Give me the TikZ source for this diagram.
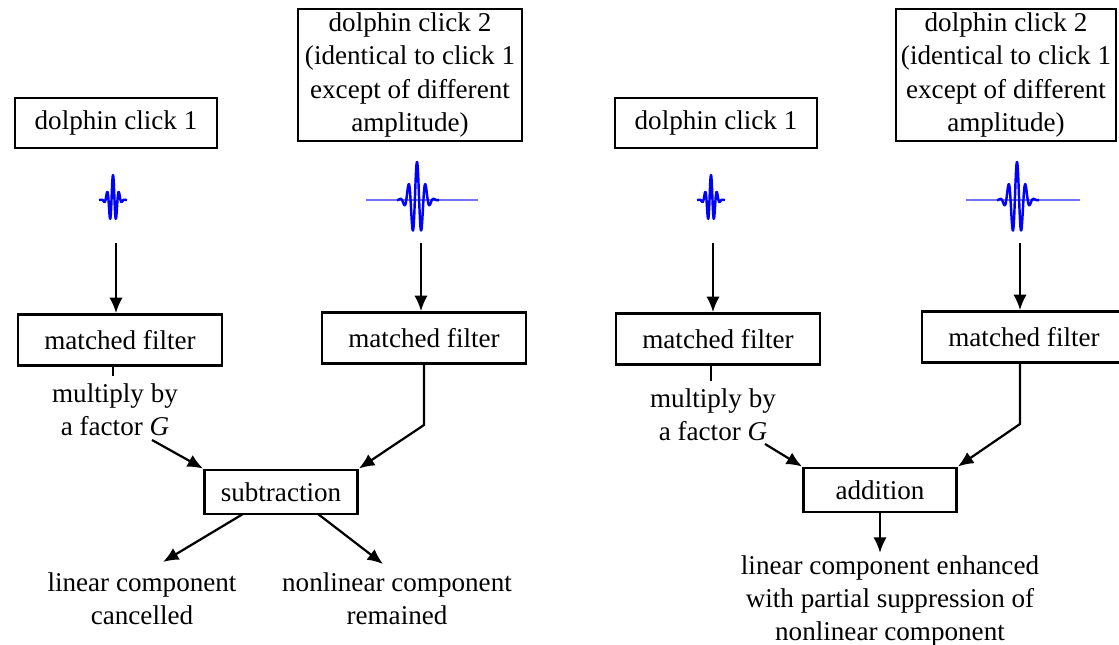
\documentclass[tikz,border=0pt]{standalone}
\usepackage{fontspec}
\setmainfont{Liberation Serif}
\usepackage{tikz}
\usetikzlibrary{arrows.meta}

\begin{document}
\begin{tikzpicture}[x=0.45pt,y=-0.45pt,
    every node/.style={font=\fontsize{12.2}{14.9}\selectfont,align=center},
    blk/.style={draw,line width=1.1pt,inner sep=0pt},
    wave/.style={blue,line width=1.1pt,line join=round},
    base/.style={blue!55,line width=0.6pt},
    arr/.style={line width=1pt,-{Latex[length=7pt,width=6pt]}},
    ln/.style={line width=1pt}]
  \useasboundingbox (0,0) rectangle (1119,645);
  % ---- left: subtraction ----
  \node[blk,minimum width=91pt,minimum height=22.5pt] (C1) at (116,123) {dolphin click 1};
  \node[blk,minimum width=101pt,minimum height=59.5pt] (C2) at (410,75)
    {dolphin click 2\\(identical to click 1\\except of different\\amplitude)};
  \draw[wave] plot[domain=-14:14,samples=250]
    ({113+\x},{200-25*exp(-(\x*\x)/30)*cos(60*\x)});
  \draw[base] (366,200) -- (478,200);
  \draw[wave] plot[domain=-20:22,samples=300]
    ({417+\x},{200-38*exp(-(\x*\x)/80)*cos(42*\x)});
  \coordinate (W1) at (116,243);
  \coordinate (W2) at (421,243);
  \node[blk,minimum width=92pt,minimum height=23pt] (MF1) at (120,340) {matched filter};
  \node[blk,minimum width=92pt,minimum height=23pt] (MF2) at (424,338) {matched filter};
  \draw[arr] (W1) -- (W1 |- MF1.north);
  \draw[arr] (W2) -- (W2 |- MF2.north);
  \node (G1) at (115,410) {multiply by\\a factor \textit{G}};
  \node[blk,minimum width=69pt,minimum height=20pt] (SUB) at (281,492) {subtraction};
  \coordinate (T1) at (113,366);
  \draw[ln] (T1) -- (T1 |- G1.north);
  \coordinate (G1e) at (152,440);
  \coordinate (T2) at (424,364);
  \coordinate (K2) at (424,425);
  \draw[arr] (G1e) -- (SUB.north west);
  \draw[arr] (T2) -- (K2) -- (SUB.north east);
  \node (LC) at (142,599) {linear component\\cancelled};
  \node (NC) at (397,599) {nonlinear component\\remained};
  \coordinate (S1) at (243,514);
  \coordinate (S2) at (318,514);
  \coordinate (E1) at (163,562);
  \coordinate (E2) at (383,564);
  \draw[arr] (S1) -- (E1);
  \draw[arr] (S2) -- (E2);
  % ---- right: addition ----
  \node[blk,minimum width=91pt,minimum height=22.5pt] (C3) at (716,123) {dolphin click 1};
  \node[blk,minimum width=99pt,minimum height=59.5pt] (C4) at (1006,75)
    {dolphin click 2\\(identical to click 1\\except of different\\amplitude)};
  \draw[wave] plot[domain=-14:14,samples=250]
    ({711+\x},{200-25*exp(-(\x*\x)/30)*cos(60*\x)});
  \draw[base] (966,200) -- (1080,200);
  \draw[wave] plot[domain=-20:22,samples=300]
    ({1017+\x},{200-38*exp(-(\x*\x)/80)*cos(42*\x)});
  \coordinate (W3) at (713,243);
  \coordinate (W4) at (1020,243);
  \node[blk,minimum width=92pt,minimum height=23pt] (MF3) at (718,339) {matched filter};
  \node[blk,minimum width=92pt,minimum height=23pt] (MF4) at (1024,337) {matched filter};
  \draw[arr] (W3) -- (W3 |- MF3.north);
  \draw[arr] (W4) -- (W4 |- MF4.north);
  \node (G2) at (713,415) {multiply by\\a factor \textit{G}};
  \node[blk,minimum width=69pt,minimum height=20pt] (ADD) at (880,490) {addition};
  \coordinate (T3) at (711,364);
  \draw[ln] (T3) -- (T3 |- G2.north);
  \coordinate (G2e) at (765,444);
  \coordinate (T4) at (1020,362);
  \coordinate (K4) at (1020,424);
  \draw[arr] (G2e) -- (ADD.north west);
  \draw[arr] (T4) -- (K4) -- (ADD.north east);
  \node[inner sep=1pt] (LE) at (890,601) {linear component enhanced\\with partial suppression of\\nonlinear component};
  \draw[arr] (ADD.south) -- (ADD.south |- LE.north);
\end{tikzpicture}
\end{document}
